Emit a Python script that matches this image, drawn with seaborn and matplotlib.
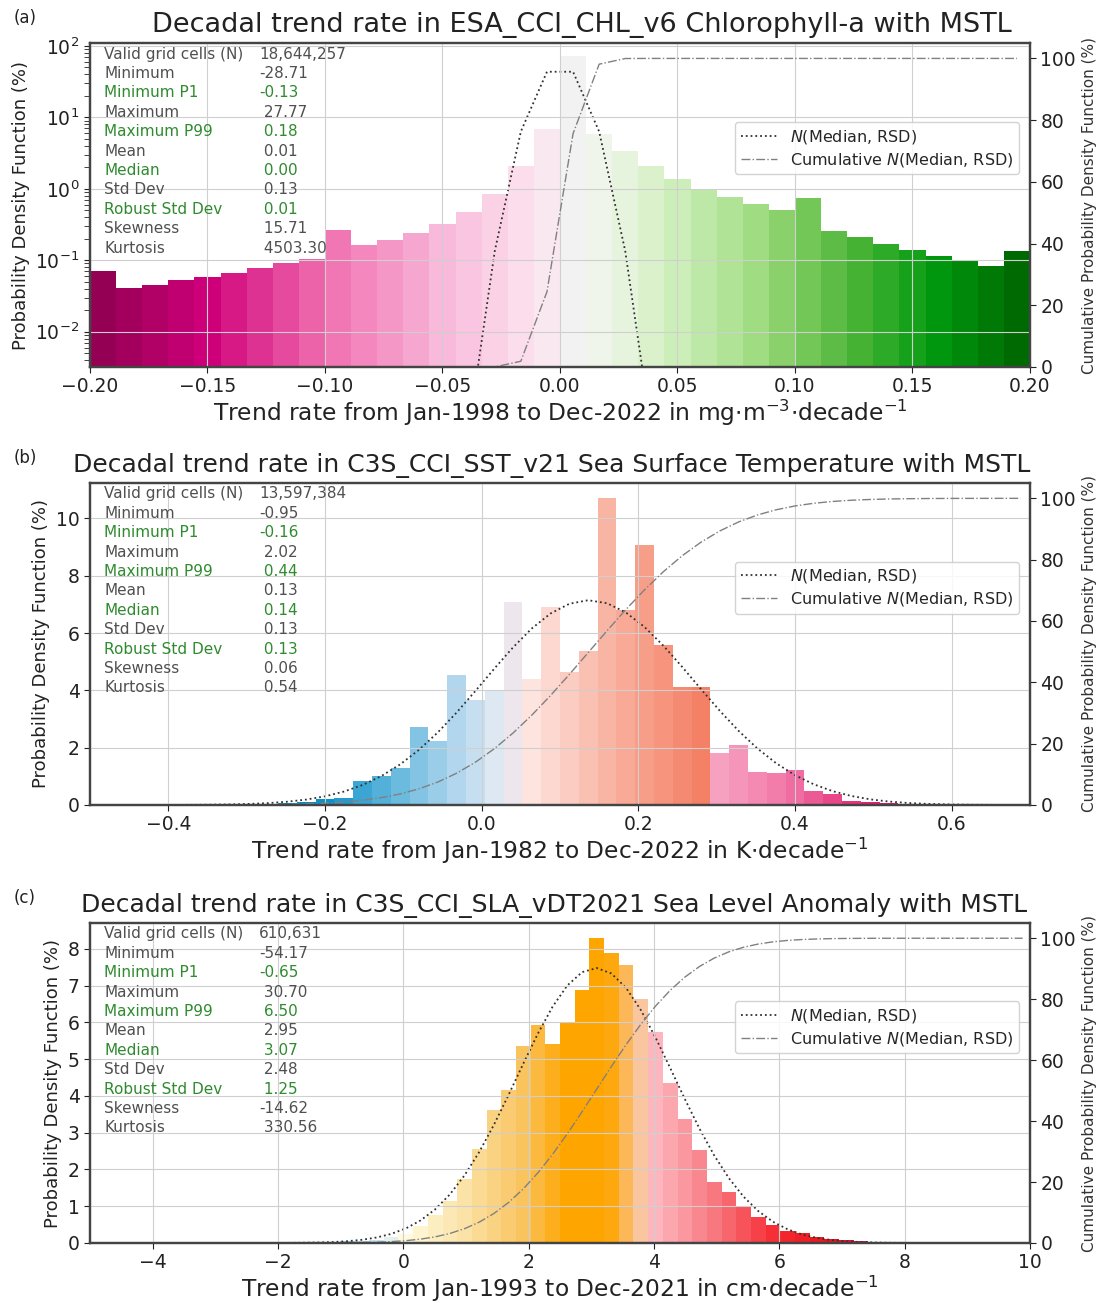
import math
import numpy as np
import pandas as pd
import matplotlib
matplotlib.use("Agg")
import matplotlib.pyplot as plt
from matplotlib.colors import LinearSegmentedColormap, Normalize
import seaborn as sns

# ---------------- data ----------------
# (a) chlorophyll-a, 36 bins over [-0.2, 0.2], % of cells per bin
chl_range = (-0.20, 0.20)
chl_pdf = [0.070, 0.041, 0.045, 0.053, 0.059, 0.066, 0.077, 0.090, 0.104, 0.264,
           0.165, 0.194, 0.237, 0.321, 0.467, 0.84, 2.1, 6.8, 72.0, 5.9,
           3.4, 2.1, 1.39, 0.99, 0.76, 0.61, 0.50, 0.74, 0.26, 0.21,
           0.17, 0.139, 0.116, 0.098, 0.084, 0.133]
chl_stats = ["18,644,257", -28.71, -0.13, 27.77, 0.18, 0.01, 0.00, 0.13, 0.008, 15.71, 4503.30]

# (b) sea surface temperature, 50 bins over [-0.5, 0.7]
sst_range = (-0.5, 0.7)
sst_pdf = [0, 0, 0, 0, 0, 0, 0.005, 0.01, 0.02, 0.04,
           0.06, 0.10, 0.22, 0.24, 0.84, 1.01, 1.28, 2.72, 2.25, 4.52,
           3.67, 4.02, 7.09, 4.41, 6.91, 4.63, 5.38, 10.70, 6.80, 9.07,
           5.57, 4.11, 4.11, 1.83, 2.10, 1.14, 1.11, 1.22, 0.49, 0.38,
           0.14, 0.09, 0.06, 0.04, 0.03, 0.02, 0.01, 0.005, 0, 0]
sst_stats = ["13,597,384", -0.95, -0.16, 2.02, 0.44, 0.13, 0.137, 0.13, 0.134, 0.06, 0.54]

# (c) sea level anomaly, 64 bins over [-5, 10]
sla_range = (-5.0, 10.0)
sla_pdf = [0, 0, 0, 0, 0, 0, 0, 0, 0.005, 0.01,
           0.015, 0.02, 0.03, 0.03, 0.035, 0.04, 0.04, 0.05, 0.06, 0.08,
           0.15, 0.25, 0.45, 0.77, 1.13, 1.73, 2.55, 3.61, 4.17, 5.37,
           5.92, 5.42, 6.02, 6.89, 8.29, 7.88, 7.56, 6.64, 5.75, 4.36,
           3.37, 2.53, 1.65, 1.38, 1.01, 0.72, 0.50, 0.34, 0.27, 0.17,
           0.12, 0.08, 0.06, 0.04, 0.03, 0.02, 0.015, 0.01, 0.008, 0.005,
           0, 0, 0, 0]
sla_stats = ["610,631", -54.17, -0.65, 30.70, 6.50, 2.95, 3.07, 2.48, 1.25, -14.62, 330.56]

stat_names = ["Valid grid cells (N)", "Minimum", "Minimum P1", "Maximum", "Maximum P99",
              "Mean", "Median", "Std Dev", "Robust Std Dev", "Skewness", "Kurtosis"]
green_rows = {"Minimum P1", "Maximum P99", "Median", "Robust Std Dev"}

titles = ["Decadal trend rate in ESA_CCI_CHL_v6 Chlorophyll-a with MSTL",
          "Decadal trend rate in C3S_CCI_SST_v21 Sea Surface Temperature with MSTL",
          "Decadal trend rate in C3S_CCI_SLA_vDT2021 Sea Level Anomaly with MSTL"]
xlabels = [r"Trend rate from Jan-1998 to Dec-2022 in mg$\cdot$m$^{-3}$$\cdot$decade$^{-1}$",
           r"Trend rate from Jan-1982 to Dec-2022 in K$\cdot$decade$^{-1}$",
           r"Trend rate from Jan-1993 to Dec-2021 in cm$\cdot$decade$^{-1}$"]

# colour ramps along the x value (value, colour)
chl_ramp = [(-0.2, "#8e0050"), (-0.15, "#d0007a"), (-0.1, "#f070b0"), (-0.05, "#f8b8da"),
            (-0.01, "#fde4f0"), (0.005, "#f2f2f2"), (0.02, "#eef6e8"), (0.05, "#cdeebb"),
            (0.08, "#a8e08a"), (0.1, "#80cc60"), (0.13, "#40b030"), (0.16, "#009a10"),
            (0.2, "#006400")]
sst_ramp = [(-0.5, "#005a9c"), (-0.2, "#0a8fc8"), (-0.1, "#70bde0"), (-0.03, "#b5d8ee"),
            (0.015, "#dce8f2"), (0.04, "#ece6ee"), (0.06, "#fde6e2"), (0.16, "#f9b4a2"),
            (0.285, "#f47e64"), (0.29, "#f8a8c4"), (0.4, "#f070a4"), (0.5, "#e02070"),
            (0.7, "#a0004c")]
sla_ramp = [(-5, "#0050a0"), (-2, "#2b8ee0"), (-0.3, "#cfe8f5"), (0.0, "#fffbe0"),
            (1.0, "#fbe2a6"), (2.0, "#f9c25a"), (2.6, "#ffa500"), (3.3, "#ffa500"),
            (3.85, "#f9c8a8"), (3.9, "#ffc0c8"), (5.0, "#f87880"), (6.0, "#f52a30"),
            (7.0, "#e81018"), (8.0, "#c0109a"), (10, "#800080")]

sns.set_style("whitegrid")
plt.rcParams["font.family"] = ["DejaVu Sans"]
plt.rcParams["mathtext.fontset"] = "dejavusans"


def ramp_cmap(ramp, lo, hi):
    return LinearSegmentedColormap.from_list(
        "r", [((v - lo) / (hi - lo), c) for v, c in ramp])


def fmt(v):
    if isinstance(v, str):
        return v
    s = "%.2f" % v
    return s if v < 0 else " " + s


fig = plt.figure(figsize=(10.99, 13.03), dpi=100)
W, H = 1099, 1303
boxes = [(43, 367), (483, 805), (923, 1243)]
title_x = [0.523, 0.491, 0.494]
title_size = [19.5, 18, 18]
panels = [(chl_range, chl_pdf, chl_stats, chl_ramp),
          (sst_range, sst_pdf, sst_stats, sst_ramp),
          (sla_range, sla_pdf, sla_stats, sla_ramp)]

for i, ((lo, hi), pdf, stats, ramp) in enumerate(panels):
    top, bot = boxes[i]
    ax = fig.add_axes([90 / W, 1 - bot / H, 940 / W, (bot - top) / H])
    nb = len(pdf)
    edges = np.linspace(lo, hi, nb + 1)
    centers = 0.5 * (edges[:-1] + edges[1:])
    df = pd.DataFrame({"x": centers, "w": np.array(pdf, dtype=float)})

    sns.histplot(data=df, x="x", weights="w", bins=nb, binrange=(lo, hi), ax=ax,
                 stat="count", element="bars", fill=True, linewidth=0, alpha=1)
    cmap = ramp_cmap(ramp, lo, hi)
    norm = Normalize(lo, hi)
    for p, c in zip(ax.patches, centers):
        p.set_facecolor(cmap(norm(c)))
        p.set_edgecolor("none")

    med, rsd = stats[6], stats[8]
    width = edges[1] - edges[0]
    z = (centers - med) / rsd
    gauss = 100 * width / (rsd * math.sqrt(2 * math.pi)) * np.exp(-0.5 * z ** 2)
    cum = np.array([50 * (1 + math.erf(t / math.sqrt(2))) for t in z])

    sns.lineplot(x=centers, y=gauss, ax=ax, color="#303030", linestyle=":",
                 linewidth=1.3, legend=False)

    if i == 0:
        ax.set_yscale("log")
        ax.set_ylim(0.0032, 110)
        ax.set_xticks(np.arange(-0.2, 0.201, 0.05))
    elif i == 1:
        ax.set_ylim(0, max(pdf) * 1.05)
        ax.set_yticks(np.arange(0, 11, 2))
        ax.set_xticks(np.arange(-0.4, 0.61, 0.2))
    else:
        ax.set_ylim(0, max(pdf) * 1.05)
        ax.set_yticks(np.arange(0, 9, 1))
        ax.set_xticks(np.arange(-4, 10.1, 2))
    ax.set_xlim(lo, hi)

    ax.grid(True, which="major", color="#cfcfcf", linewidth=0.8)
    ax.set_axisbelow(False)
    for s in ax.spines.values():
        s.set_color("#444444")
        s.set_linewidth(1.6)
    ax.tick_params(axis="both", which="both", direction="out", length=4,
                   labelsize=13.5, left=True, bottom=True, colors="#222222")
    ax.set_ylabel("Probability Density Function (%)", fontsize=13, color="#222222")
    ax.set_xlabel(xlabels[i], fontsize=16.8, color="#222222", labelpad=1)
    ax.set_title(titles[i], fontsize=title_size[i], pad=8, color="#222222",
                 x=title_x[i])

    ax2 = ax.twinx()
    sns.lineplot(x=centers, y=cum, ax=ax2, color="#808080", linestyle="-.",
                 linewidth=1.0, legend=False)
    ax2.set_ylim(0, 105)
    ax2.set_yticks(np.arange(0, 101, 20))
    ax2.grid(False)
    ax2.tick_params(axis="y", direction="out", length=4, labelsize=13.5, right=True,
                    colors="#222222")
    ax2.set_ylabel("Cumulative Probability Density Function (%)", fontsize=11,
                   color="#333333")
    for s in ax2.spines.values():
        s.set_color("#444444")
        s.set_linewidth(1.6)

    ax2.legend([ax.lines[-1], ax2.lines[-1]],
               [r"$N$(Median, RSD)", r"Cumulative $N$(Median, RSD)"],
               loc="upper right", bbox_to_anchor=(0.997, 0.78), fontsize=11.5,
               framealpha=0.85, edgecolor="#cccccc", handlelength=2.3,
               borderpad=0.35, labelspacing=0.3)

    step = 19.4 / (bot - top)
    for j, (name, v) in enumerate(zip(stat_names, stats)):
        col = "#2e8b2e" if name in green_rows else "#505050"
        y = 0.966 - j * step
        ax.text(0.015, y, name, transform=ax.transAxes, fontsize=11, color=col,
                va="center", ha="left", zorder=10)
        ax.text(0.180, y, fmt(v), transform=ax.transAxes, fontsize=11, color=col,
                va="center", ha="left", zorder=10)

    fig.text(25 / W, 1 - (18 + 440 * i) / H, "(%s)" % "abc"[i], fontsize=12,
             ha="center", va="center", color="#222222")

fig.savefig("out.png", dpi=100)
